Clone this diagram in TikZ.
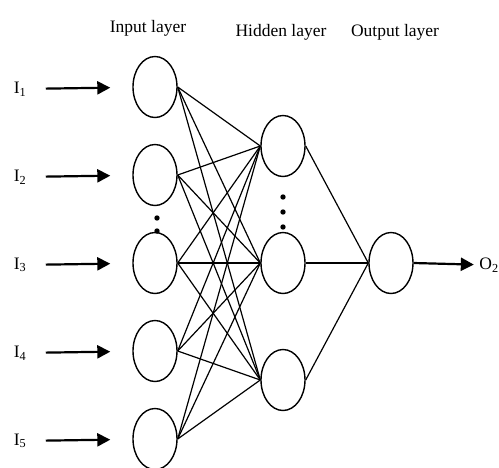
\documentclass[tikz,border=0pt]{standalone}
\usepackage{fontspec}
\setmainfont{Liberation Serif}
\usetikzlibrary{arrows.meta,shapes.geometric}

\begin{document}
\begin{tikzpicture}[x=1pt,y=1pt,>={Triangle[length=13pt,width=13pt]},node distance=88pt,
        neuron/.style={draw,ellipse,line width=1.4pt,minimum width=44pt,minimum height=61pt},
        dot/.style={circle,fill,inner sep=1.9pt},
        inarrow/.style={->,line width=2.2pt,shorten <=16pt,shorten >=22pt},
        title/.style={font=\fontsize{17.5}{20}\selectfont}]

  \useasboundingbox (0,0) rectangle (499,-467);

  % input layer
  \node[neuron] (i1) at (155,-87) {};
  \node[neuron] (i2) [below of=i1] {};
  \node[neuron] (i3) [below of=i2] {};
  \node[neuron] (i4) [below of=i3] {};
  \node[neuron] (i5) [below of=i4] {};

  % hidden layer
  \node[neuron] (h2) at (283,-263) {};
  \node[neuron] (h1) [above of=h2,node distance=117pt] {};
  \node[neuron] (h3) [below of=h2,node distance=117pt] {};

  % output layer
  \node[neuron] (o1) at (391,-263) {};

  % labels
  \node[title] (tin) at (148,-28) {Input layer};
  \node[title] (thid) at (281,-32) {Hidden layer};
  \node[title] (tout) at (395,-32) {Output layer};

  \node[title] (x1) at (20,-89) {I\textsubscript{1}};
  \node[title] (x2) at (20,-177) {I\textsubscript{2}};
  \node[title] (x3) at (20,-265) {I\textsubscript{3}};
  \node[title] (x4) at (20,-353) {I\textsubscript{4}};
  \node[title] (x5) at (20,-441) {I\textsubscript{5}};
  \node[title] (y1) at (489,-265) {O\textsubscript{2}};

  % dots
  \node[dot] (d1) at (157,-218) {};
  \node[dot] (d2) at (157,-231) {};
  \node[dot] (d3) at (283,-197) {};
  \node[dot] (d4) at (283,-212) {};
  \node[dot] (d5) at (283,-227) {};

  % inputs and output
  \draw[inarrow] (x1) -- (i1);
  \draw[inarrow] (x2) -- (i2);
  \draw[inarrow] (x3) -- (i3);
  \draw[inarrow] (x4) -- (i4);
  \draw[inarrow] (x5) -- (i5);
  \draw[->,line width=2.2pt,shorten >=2pt] (o1.east) -- (y1);

  \path[line width=1.2pt]
        (i1.east) edge (h1.west)
        (i1.east) edge (h2.west)
        (i1.east) edge (h3.west)
        (i2.east) edge (h1.west)
        (i2.east) edge (h2.west)
        (i2.east) edge (h3.west)
        (i3.east) edge (h1.west)
        (i3.east) edge (h2.west)
        (i3.east) edge (h3.west)
        (i4.east) edge (h1.west)
        (i4.east) edge (h2.west)
        (i4.east) edge (h3.west)
        (i5.east) edge (h1.west)
        (i5.east) edge (h2.west)
        (i5.east) edge (h3.west)
        (h1.east) edge (o1.west)
        (h2.east) edge (o1.west)
        (h3.east) edge (o1.west);

\end{tikzpicture}
\end{document}
